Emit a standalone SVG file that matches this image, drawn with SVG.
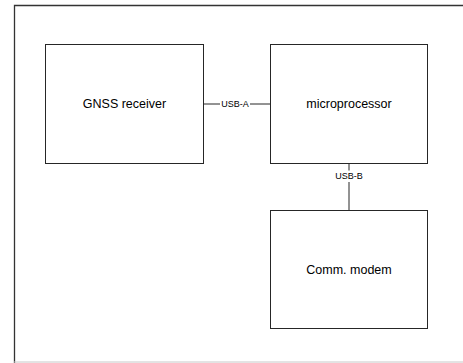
<svg xmlns="http://www.w3.org/2000/svg" width="463" height="363" viewBox="0 0 463 363">
<style>
.box{fill:#fff;stroke:#262626;stroke-width:1}
.lbl{font-family:"Liberation Sans",Arial,sans-serif;font-size:12.5px;fill:#000;text-anchor:middle;dominant-baseline:central}
.sm{font-family:"Liberation Sans",Arial,sans-serif;font-size:9px;fill:#000;text-anchor:middle;dominant-baseline:central}
.ln{stroke:#262626;stroke-width:1;fill:none}
</style>
<rect width="463" height="363" fill="#fff"/>
<g id="frame">
<path d="M14.5 363 V5.5 H463" stroke="#333" stroke-width="1.3" fill="none"/>
<line x1="14" y1="362" x2="463" y2="362" stroke="#c8c8c8" stroke-width="1"/>
</g>
<g id="connectors">
<line class="ln" x1="203.5" y1="104" x2="220" y2="104"/>
<line class="ln" x1="250" y1="104" x2="270.5" y2="104"/>
<text class="sm" x="235" y="104">USB-A</text>
<line class="ln" x1="349" y1="163.5" x2="349" y2="170.5"/>
<line class="ln" x1="349" y1="182" x2="349" y2="210.5"/>
<text class="sm" x="349" y="176">USB-B</text>
</g>
<g id="gnss">
<rect class="box" x="45.5" y="44.5" width="158" height="119"/>
<text class="lbl" x="124.5" y="104">GNSS receiver</text>
</g>
<g id="microprocessor">
<rect class="box" x="270.5" y="44.5" width="157" height="119"/>
<text class="lbl" x="349" y="104">microprocessor</text>
</g>
<g id="modem">
<rect class="box" x="270.5" y="210.5" width="157" height="118"/>
<text class="lbl" x="349" y="269.5">Comm. modem</text>
</g>
</svg>
